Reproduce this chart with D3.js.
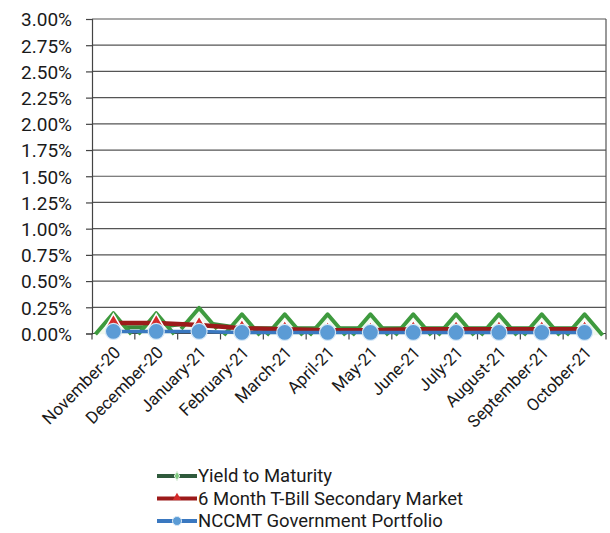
<!DOCTYPE html>
<html><head><meta charset="utf-8">
<script src="https://cdn.jsdelivr.net/npm/d3@7"></script>
<style>body{margin:0;background:#fff}svg{display:block}</style>
</head><body>
<script>
const categories = ["November-20","December-20","January-21","February-21","March-21","April-21","May-21","June-21","July-21","August-21","September-21","October-21"];
const yieldToMaturity = [0.06,0.06,0.11,0.05,0.05,0.05,0.05,0.05,0.05,0.05,0.05,0.05];
const tBill6Month = [0.10,0.10,0.08,0.05,0.04,0.03,0.03,0.04,0.04,0.04,0.04,0.04];
const nccmtGov = [0.02,0.02,0.02,0.01,0.01,0.01,0.01,0.01,0.01,0.01,0.01,0.01];
const yTicks = [0,0.25,0.5,0.75,1,1.25,1.5,1.75,2,2.25,2.5,2.75,3];
const seriesNames = ["Yield to Maturity","6 Month T-Bill Secondary Market","NCCMT Government Portfolio"];

(function(){
const W=610,H=533;
const svg=d3.select("body").append("svg").attr("width",W).attr("height",H);
const font="Roboto, 'Liberation Sans', sans-serif";
const pL=92,pR=606,pT=19,pB=333.5;
const x=d3.scalePoint().domain(categories).range([pL,pR]).padding(0.5);
const y=d3.scaleLinear().domain([0,3]).range([pB,pT]);

svg.append("g").selectAll("line").data(yTicks).join("line")
  .attr("x1",pL).attr("x2",pR).attr("y1",d=>y(d)).attr("y2",d=>y(d))
  .attr("stroke","#555").attr("stroke-width",1.2);
const yAxis=d3.axisLeft(y).tickValues(yTicks).tickSize(6).tickFormat(d=>d.toFixed(2)+"%");
const ga=svg.append("g").attr("transform",`translate(${pL},0)`).call(yAxis);
ga.select(".domain").attr("stroke","#444").attr("stroke-width",1.2);
ga.selectAll(".tick line").attr("stroke","#444").attr("stroke-width",1.2);
ga.selectAll(".tick text").attr("font-family",font).attr("font-size",19).attr("fill","#1a1a1a").attr("x",-20).attr("dy","0.36em");
svg.append("line").attr("x1",pR).attr("x2",pR).attr("y1",pT).attr("y2",pB).attr("stroke","#555").attr("stroke-width",1.2);
const step=x.step();
const bounds=d3.range(categories.length+1).map(i=>pL+i*step);
svg.append("g").selectAll("line").data(bounds).join("line")
  .attr("x1",d=>d).attr("x2",d=>d).attr("y1",pB).attr("y2",pB+6).attr("stroke","#444").attr("stroke-width",1.2);
svg.append("line").attr("x1",pL).attr("x2",pR).attr("y1",pB).attr("y2",pB).attr("stroke","#444").attr("stroke-width",1.2);
svg.append("g").selectAll("text").data(categories).join("text")
  .attr("transform",d=>`translate(${x(d)+8},${pB+20}) rotate(-45)`)
  .attr("text-anchor","end").attr("font-family",font).attr("font-size",17).attr("fill","#1a1a1a").text(d=>d);

const line=d3.line().x((d,i)=>x(categories[i])).y(d=>y(d));
const tri=d3.symbol().type(d3.symbolTriangle);

// Yield to maturity: line + wide open triangle markers
svg.append("path").datum(yieldToMaturity).attr("d",line).attr("fill","none").attr("stroke","#3b8a3b").attr("stroke-width",4);
svg.append("g").selectAll("path").data(yieldToMaturity).join("path")
  .attr("transform",(d,i)=>`translate(${x(categories[i])},${y(d)})`)
  .attr("d","M-18,7L0,-14L18,7").attr("fill","#f2f9ef").attr("stroke","#3e9a3e").attr("stroke-width",4).attr("stroke-linejoin","round");
// 6 month T-bill
svg.append("path").datum(tBill6Month).attr("d",line).attr("fill","none").attr("stroke","#9c1a1a").attr("stroke-width",4.5);
svg.append("g").selectAll("path").data(tBill6Month).join("path")
  .attr("transform",(d,i)=>`translate(${x(categories[i])},${y(d)})`)
  .attr("d",tri.size(110)()).attr("fill","#d42a2a").attr("stroke","#ffffff").attr("stroke-width",1.5);
// NCCMT
svg.append("path").datum(nccmtGov).attr("d",line).attr("fill","none").attr("stroke","#3a78c0").attr("stroke-width",3.5);
svg.append("g").selectAll("circle").data(nccmtGov).join("circle")
  .attr("cx",(d,i)=>x(categories[i])).attr("cy",d=>y(d)).attr("r",8)
  .attr("fill","#5b9bd5").attr("stroke","#d6e8f7").attr("stroke-width",1.2);

const lg=svg.append("g");
const rows=[{c:"#2f5a3c",m:"diamond",mc:"#7fc97f"},{c:"#9c1a1a",m:"tri",mc:"#d42a2a"},{c:"#3a78c0",m:"circle",mc:"#5b9bd5"}];
rows.forEach((r,i)=>{
  const yy=476+i*22.5;
  lg.append("line").attr("x1",157).attr("x2",197).attr("y1",yy).attr("y2",yy).attr("stroke",r.c).attr("stroke-width",4);
  if(r.m==="circle") lg.append("circle").attr("cx",177).attr("cy",yy).attr("r",4.5).attr("fill",r.mc).attr("stroke","#d6e8f7");
  else if(r.m==="tri") lg.append("path").attr("transform",`translate(177,${yy-1})`).attr("d",d3.symbol().type(d3.symbolTriangle).size(30)()).attr("fill",r.mc);
  else lg.append("path").attr("transform",`translate(177,${yy})`).attr("d",d3.symbol().type(d3.symbolDiamond).size(25)()).attr("fill",r.mc).attr("stroke","#e6f3e6");
  lg.append("text").attr("x",198).attr("y",yy).attr("dy","0.35em").attr("font-family",font).attr("font-size",18.5).attr("fill","#1a1a1a").text(seriesNames[i]);
});
})();
</script>
</body></html>
